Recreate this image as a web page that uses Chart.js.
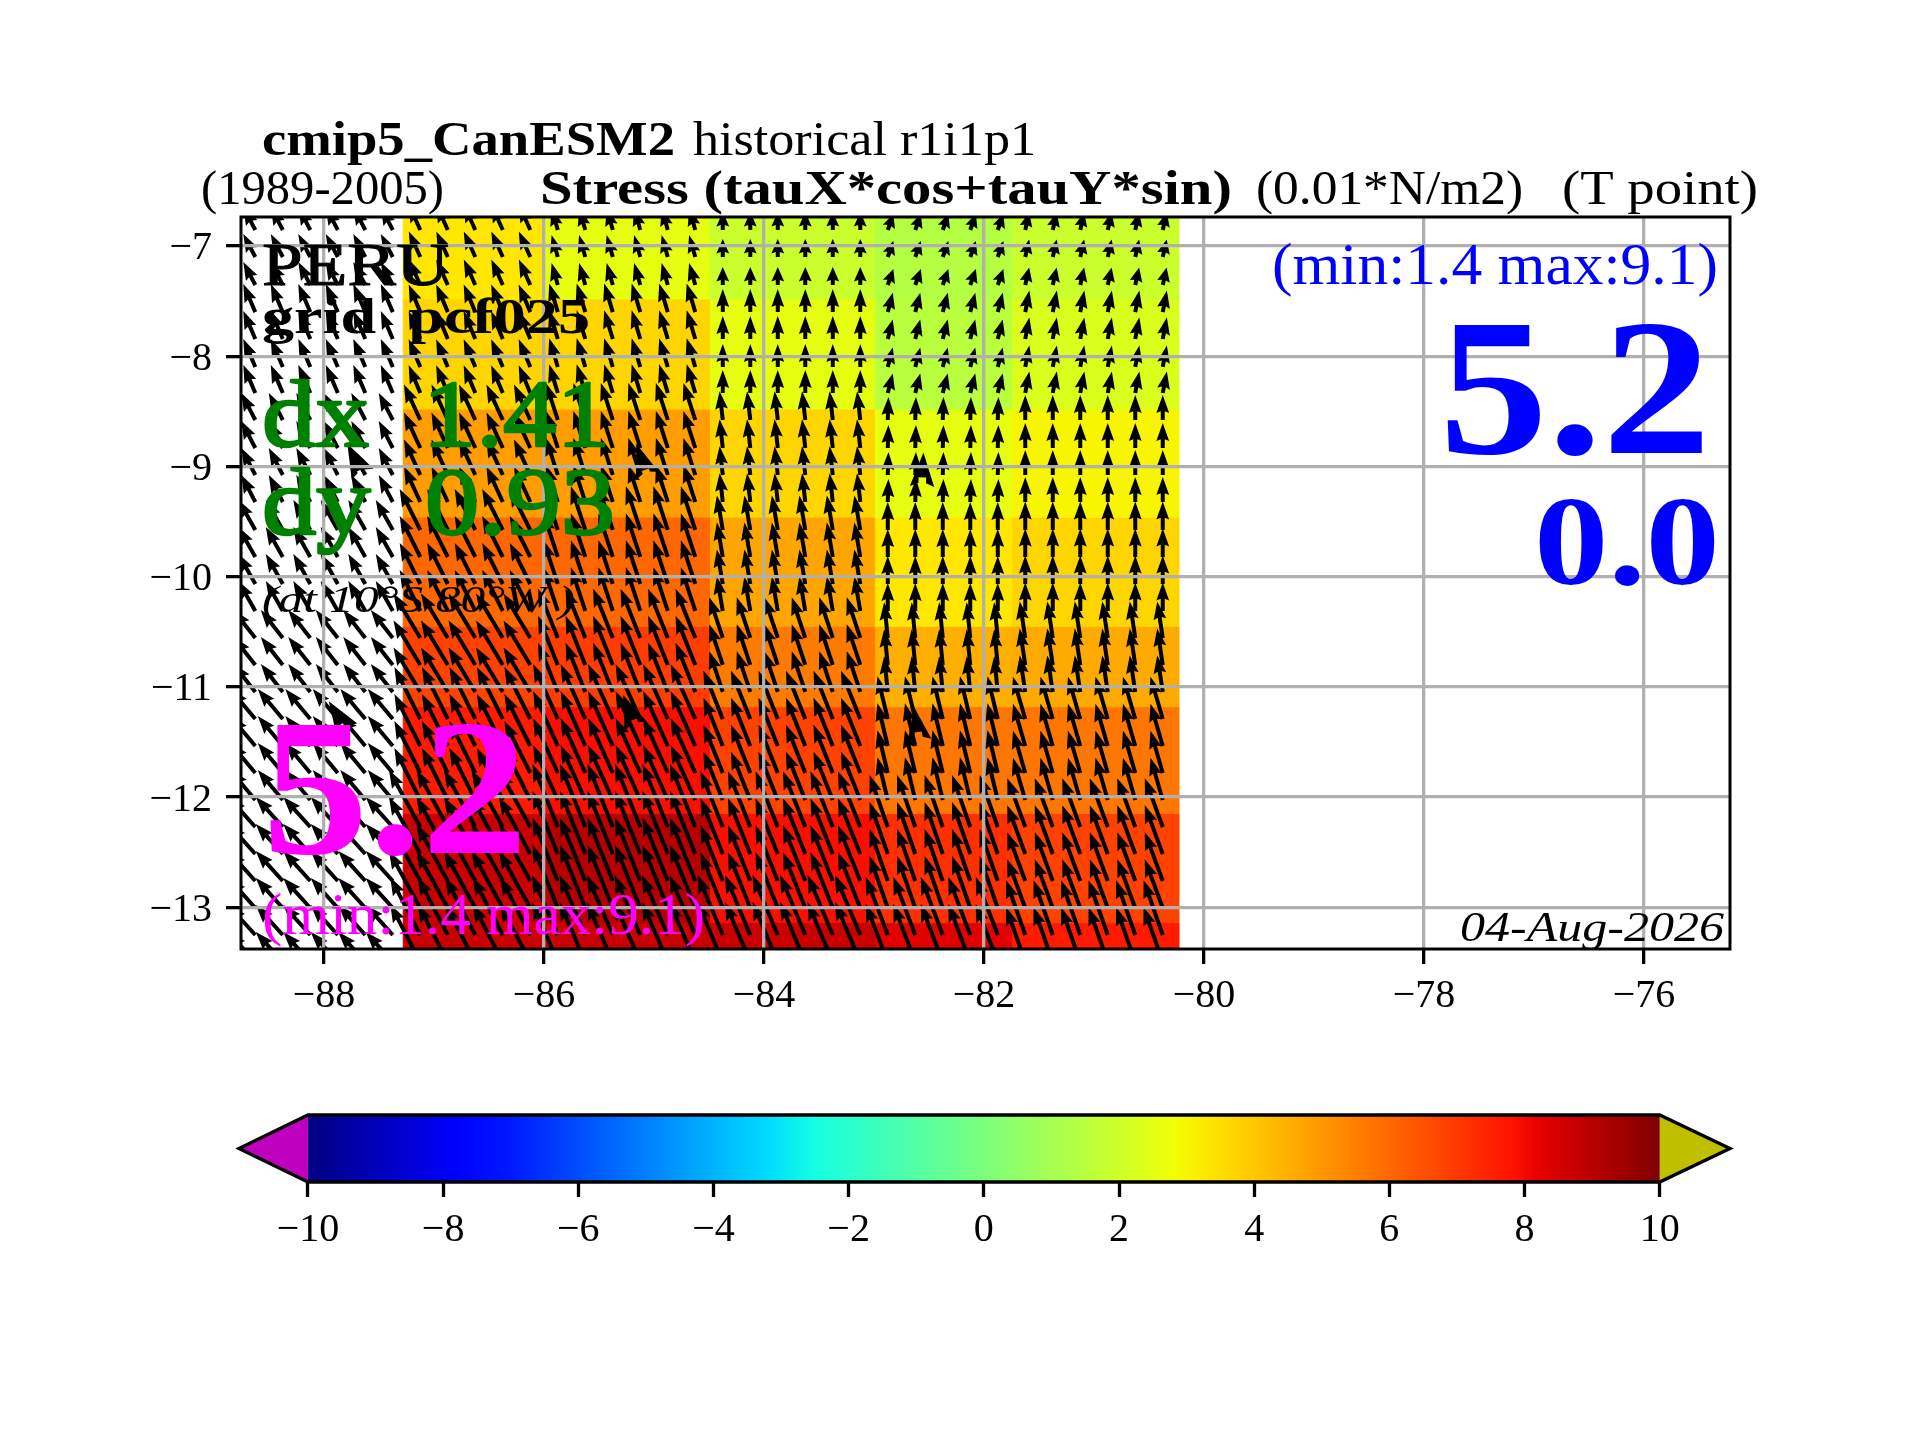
<!DOCTYPE html>
<html>
<head>
<meta charset="utf-8">
<title>cmip5_CanESM2 stress PERU</title>
<script src="https://cdn.jsdelivr.net/npm/chart.js@4"></script>
<style>
  html, body { margin: 0; padding: 0; background: #fff; }
  canvas { position: absolute; left: 0; top: 0; }
</style>
</head>
<body>
<canvas id="mapChart" width="1920" height="1440"></canvas>
<canvas id="barChart" width="1920" height="1440"></canvas>
<script>
'use strict'

// colour cells, edges of the model grid (land column is left empty)
const lonEdges = [-87.28, -86, -84.5, -83, -81.75, -80.23];
const latEdges = [-6.737, -7.48, -8.48, -9.46, -10.45, -11.18, -12.15, -13.14, -13.379];
const stressRows = [
  [3.3, 2.6, 1.9, 1.4, 1.9],
  [3.7, 3.7, 2.6, 1.5, 2.3],
  [4.9, 4.9, 3.7, 2.6, 3.0],
  [6.0, 6.0, 4.7, 3.3, 3.7],
  [6.8, 6.9, 5.6, 4.5, 4.6],
  [7.65, 7.9, 6.8, 5.7, 5.7],
  [8.75, 9.1, 7.9, 7.2, 6.8],
  [8.75, 8.75, 8.75, 8.3, 7.65]
];

// arrows, tail positions grouped by the block they take their vector from
const arrowLonGroups = [
  [-88.625, -88.375, -88.125, -87.875, -87.625, -87.375],
  [-87.125, -86.875, -86.625, -86.375, -86.125],
  [-85.875, -85.625, -85.375, -85.125, -84.875, -84.625],
  [-84.375, -84.125, -83.875, -83.625, -83.375, -83.125],
  [-82.875, -82.625, -82.375, -82.125, -81.875],
  [-81.625, -81.375, -81.125, -80.875, -80.625, -80.375]
];
const arrowLatGroups = [
  [-6.855, -7.10, -7.354],
  [-7.60, -7.844, -8.098, -8.334],
  [-8.579, -8.833, -9.078, -9.323],
  [-9.577, -9.822, -10.067, -10.312],
  [-10.557, -10.802, -11.047],
  [-11.292, -11.537, -11.782, -12.027],
  [-12.272, -12.517, -12.762, -13.007],
  [-13.252, -13.497]
];
const tauX = [
  [-1.2, -1.15, -0.62, 0.0, 0.56, 0.39],
  [-1.2, -1.16, -0.86, 0.0, 0.5, 0.41],
  [-1.4, -1.63, -1.19, -0.32, 0.07, 0.0],
  [-1.7, -2.06, -1.44, -0.59, 0.0, 0.0],
  [-2.2, -2.68, -1.97, -1.35, -0.36, -0.55],
  [-2.5, -2.59, -2.46, -1.93, -1.03, -1.23],
  [-2.7, -3.13, -2.53, -2.23, -1.82, -1.8],
  [-2.7, -3.0, -2.57, -2.52, -2.2, -1.92]
];
const tauY = [
  [2.3, 2.55, 2.21, 1.8, 1.6, 1.76],
  [2.8, 2.77, 2.87, 2.3, 1.94, 2.16],
  [2.7, 3.54, 3.71, 2.88, 2.3, 2.5],
  [3.0, 4.11, 4.37, 3.45, 2.8, 2.85],
  [2.8, 4.46, 4.92, 4.08, 3.58, 3.66],
  [3.0, 5.19, 5.47, 4.83, 4.28, 4.23],
  [3.0, 5.7, 6.31, 5.57, 5.19, 4.88],
  [3.0, 5.77, 5.97, 5.99, 5.8, 5.48]
];

// six short fat arrows that stand out from the regular field
const fatLon = [-87.67, -85.08, -82.56, -85.19, -87.83, -82.6];
const fatLat = [-9.03, -9.03, -9.10, -11.30, -11.33, -11.41];
const fatU = [-1.3, -0.9, 0.1, -1.0, -1.4, -0.4];
const fatV = [2.6, 2.6, 2.5, 2.5, 2.2, 2.5];

const xTicks = [-88, -86, -84, -82, -80, -78, -76];
const yTicks = [-13, -12, -11, -10, -9, -8, -7];
const barTicks = [-10, -8, -6, -4, -2, 0, 2, 4, 6, 8, 10];

// jet colour map
const jetR = [[0, 0], [0.35, 0], [0.66, 1], [0.89, 1], [1, 0.5]];
const jetG = [[0, 0], [0.125, 0], [0.375, 1], [0.64, 1], [0.91, 0], [1, 0]];
const jetB = [[0, 0.5], [0.11, 1], [0.34, 1], [0.65, 0], [1, 0]];

function channel(stops, t) {
  for (let i = 1; i < stops.length; i++) {
    if (t <= stops[i][0]) {
      const f = (t - stops[i - 1][0]) / (stops[i][0] - stops[i - 1][0]);
      return Math.round(255 * (stops[i - 1][1] + f * (stops[i][1] - stops[i - 1][1])));
    }
  }
  return Math.round(255 * stops[stops.length - 1][1]);
}

function jet(value) {
  const t = (value + 10) / 20;
  return `rgb(${channel(jetR, t)},${channel(jetG, t)},${channel(jetB, t)})`;
}

const serif = '"Liberation Serif", serif';

// all the text on the figure: x is the left edge, width the measured width, y the baseline
const labels = [
  { text: 'cmip5_CanESM2', x: 262, width: 413, y: 155, size: 48, weight: 'bold' },
  { text: 'historical r1i1p1', x: 693, width: 343, y: 155, size: 48 },
  { text: '(1989-2005)', x: 201, width: 243, y: 204, size: 48 },
  { text: 'Stress (tauX*cos+tauY*sin)', x: 540, width: 692, y: 204, size: 48, weight: 'bold' },
  { text: '(0.01*N/m2)', x: 1256, width: 267, y: 204, size: 48 },
  { text: '(T point)', x: 1562, width: 196, y: 204, size: 48 },
  { text: 'PERU', x: 262, width: 187, y: 285, size: 62, stroke: 1 },
  { text: 'grid  pcf025', x: 262, width: 328, y: 333, size: 50, weight: 'bold' },
  { text: 'dx  1.41', x: 262, width: 348, y: 446, size: 96, color: '#008000', stroke: 2.5 },
  { text: 'dy  0.93', x: 262, width: 353, y: 534, size: 96, color: '#008000', stroke: 2.5 },
  { text: '(at 10°S 80°W )', x: 262, width: 313, y: 612, size: 38, style: 'italic' },
  { text: '5.2', x: 262, width: 266, y: 853, size: 195, weight: 'bold', color: '#ff00ff' },
  { text: '(min:1.4 max:9.1)', x: 262, width: 443, y: 934, size: 60, color: '#ff00ff' },
  { text: '(min:1.4 max:9.1)', x: 1272, width: 446, y: 284, size: 60, color: '#0000ff' },
  { text: '5.2', x: 1439, width: 272, y: 453, size: 195, weight: 'bold', color: '#0000ff' },
  { text: '0.0', x: 1534, width: 186, y: 584, size: 128, weight: 'bold', color: '#0000ff' },
  { text: '04-Aug-2026', x: 1460, width: 264, y: 941, size: 42, style: 'italic' }
];

function minusLabel(value) {
  return String(value).replace('-', '\u2212');
}

// one closed polygon per colour cell
const cellDatasets = [];
stressRows.forEach((row, r) => {
  row.forEach((value, c) => {
    cellDatasets.push({
      label: 'cell',
      data: [
        { x: lonEdges[c], y: latEdges[r] },
        { x: lonEdges[c + 1], y: latEdges[r] },
        { x: lonEdges[c + 1], y: latEdges[r + 1] },
        { x: lonEdges[c], y: latEdges[r + 1] },
        { x: lonEdges[c], y: latEdges[r] }
      ],
      showLine: true,
      fill: 'shape',
      backgroundColor: jet(value),
      borderColor: jet(value),
      borderWidth: 1,
      pointRadius: 0
    });
  });
});

const arrowPoints = [];
arrowLatGroups.forEach((lats, r) => {
  lats.forEach(lat => {
    arrowLonGroups.forEach((lons, c) => {
      lons.forEach(lon => {
        arrowPoints.push({ x: lon, y: lat, u: tauX[r][c], v: tauY[r][c], fat: 1 });
      });
    });
  });
});
fatLon.forEach((lon, i) => {
  arrowPoints.push({ x: lon, y: fatLat[i], u: fatU[i], v: fatV[i], fat: 1.9 });
});

const arrowPx = 10; // pixels per unit of tauX, tauY
const shaftW = 4;

function drawArrow(ctx, x, y, u, v, fat) {
  const len = Math.hypot(u, v) * arrowPx;
  const headL = Math.min(18, len * 0.8) * fat;
  const headW = 6.4 * fat;
  const sh = shaftW * fat / 2;
  ctx.save();
  ctx.translate(x, y);
  ctx.rotate(Math.atan2(-v, u));
  ctx.beginPath();
  ctx.moveTo(0, -sh);
  ctx.lineTo(len - headL * 0.9, -sh);
  ctx.lineTo(len - headL, -headW);
  ctx.lineTo(len, 0);
  ctx.lineTo(len - headL, headW);
  ctx.lineTo(len - headL * 0.9, sh);
  ctx.lineTo(0, sh);
  ctx.closePath();
  ctx.fill();
  ctx.restore();
}

// arrows go on after the cells and before the grid, which has z: 1
const quiverPlugin = {
  id: 'quiver',
  afterDatasetsDraw(chart) {
    const { ctx, chartArea, scales } = chart;
    ctx.save();
    ctx.beginPath();
    ctx.rect(chartArea.left, chartArea.top, chartArea.width, chartArea.height);
    ctx.clip();
    ctx.fillStyle = '#000';
    arrowPoints.forEach(p => {
      drawArrow(ctx, scales.x.getPixelForValue(p.x), scales.y.getPixelForValue(p.y), p.u, p.v, p.fat);
    });
    ctx.restore();
  }
};

const framePlugin = {
  id: 'frame',
  afterDraw(chart) {
    const { ctx, chartArea } = chart;
    ctx.save();
    ctx.strokeStyle = '#000';
    ctx.lineWidth = 3;
    ctx.strokeRect(chartArea.left, chartArea.top, chartArea.width, chartArea.height);
    ctx.textBaseline = 'alphabetic';
    ctx.lineJoin = 'round';
    labels.forEach(l => {
      ctx.font = `${l.style || 'normal'} ${l.weight || 'normal'} ${l.size}px ${serif}`;
      const w = ctx.measureText(l.text).width;
      ctx.save();
      ctx.translate(l.x, l.y);
      ctx.scale(l.width / w, 1);
      ctx.fillStyle = l.color || '#000';
      ctx.fillText(l.text, 0, 0);
      if (l.stroke) {
        ctx.strokeStyle = l.color || '#000';
        ctx.lineWidth = l.stroke;
        ctx.strokeText(l.text, 0, 0);
      }
      ctx.restore();
    });
    ctx.restore();
  }
};

new Chart(document.getElementById('mapChart'), {
  type: 'scatter',
  data: { datasets: cellDatasets },
  plugins: [quiverPlugin, framePlugin],
  options: {
    responsive: false,
    animation: false,
    devicePixelRatio: 1,
    layout: { padding: { top: 217, right: 190, left: 0, bottom: 0 } },
    plugins: { legend: { display: false }, tooltip: { enabled: false }, title: { display: false } },
    scales: {
      x: {
        type: 'linear',
        min: -88.755,
        max: -75.218,
        afterBuildTicks: axis => { axis.ticks = xTicks.map(v => ({ value: v })); },
        afterFit: axis => { axis.height = 491; },
        grid: { color: '#b0b0b0', lineWidth: 3.3, z: 1, tickColor: '#000', tickLength: 15, tickWidth: 3.3 },
        border: { display: false },
        ticks: {
          callback: minusLabel, color: '#000', padding: 8, maxRotation: 0, autoSkip: false,
          font: { family: serif, size: 40 }
        }
      },
      y: {
        type: 'linear',
        min: -13.379,
        max: -6.737,
        afterBuildTicks: axis => { axis.ticks = yTicks.map(v => ({ value: v })); },
        afterFit: axis => { axis.width = 241; },
        grid: { color: '#b0b0b0', lineWidth: 3.3, z: 1, tickColor: '#000', tickLength: 15, tickWidth: 3.3 },
        border: { display: false },
        ticks: {
          callback: minusLabel, color: '#000', padding: 14, autoSkip: false, labelOffset: 3,
          font: { family: serif, size: 40 }
        }
      }
    }
  }
});

// colour bar, with the two end triangles inside the same x range
const barMin = -11.02;
const barMax = 11.04;
const barStops = [-10, -9, -7.8, -7, -6.5, -5, -4, -3.2, -2.5, -0.5, 1, 2.8, 3, 3.5, 5, 6, 7.8, 8.2, 9, 10];

function barGradient(context) {
  const chart = context.chart;
  if (!chart.chartArea) return '#000';
  const sx = chart.scales.x;
  const g = chart.ctx.createLinearGradient(sx.getPixelForValue(-10), 0, sx.getPixelForValue(10), 0);
  barStops.forEach(v => g.addColorStop((v + 10) / 20, jet(v)));
  return g;
}

new Chart(document.getElementById('barChart'), {
  type: 'scatter',
  data: {
    datasets: [
      {
        label: 'outline',
        data: [
          { x: -10, y: 0 }, { x: barMin, y: 0.5 }, { x: -10, y: 1 },
          { x: 10, y: 1 }, { x: barMax, y: 0.5 }, { x: 10, y: 0 }, { x: -10, y: 0 }
        ],
        showLine: true,
        borderColor: '#000',
        borderWidth: 3.3,
        pointRadius: 0,
        clip: 6
      },
      {
        label: 'colours',
        data: [{ x: -10, y: 0 }, { x: 10, y: 0 }, { x: 10, y: 1 }, { x: -10, y: 1 }, { x: -10, y: 0 }],
        showLine: true,
        fill: 'shape',
        backgroundColor: barGradient,
        borderWidth: 0,
        pointRadius: 0
      },
      {
        label: 'under',
        data: [{ x: -10, y: 0 }, { x: barMin, y: 0.5 }, { x: -10, y: 1 }, { x: -10, y: 0 }],
        showLine: true,
        fill: 'shape',
        backgroundColor: '#bf00bf',
        borderWidth: 0,
        pointRadius: 0
      },
      {
        label: 'over',
        data: [{ x: 10, y: 0 }, { x: barMax, y: 0.5 }, { x: 10, y: 1 }, { x: 10, y: 0 }],
        showLine: true,
        fill: 'shape',
        backgroundColor: '#bfbf00',
        borderWidth: 0,
        pointRadius: 0
      }
    ]
  },
  options: {
    responsive: false,
    animation: false,
    devicePixelRatio: 1,
    layout: { padding: { top: 1115, right: 190, left: 239, bottom: 0 } },
    plugins: { legend: { display: false }, tooltip: { enabled: false } },
    scales: {
      x: {
        type: 'linear',
        min: barMin,
        max: barMax,
        afterBuildTicks: axis => { axis.ticks = barTicks.map(v => ({ value: v })); },
        afterFit: axis => { axis.height = 258; },
        grid: { drawOnChartArea: false, tickColor: '#000', tickLength: 15, tickWidth: 3.3 },
        border: { display: false },
        ticks: {
          callback: minusLabel, color: '#000', padding: 9, maxRotation: 0, autoSkip: false,
          font: { family: serif, size: 40 }
        }
      },
      y: { type: 'linear', min: 0, max: 1, display: false }
    }
  }
});
</script>
</body>
</html>
